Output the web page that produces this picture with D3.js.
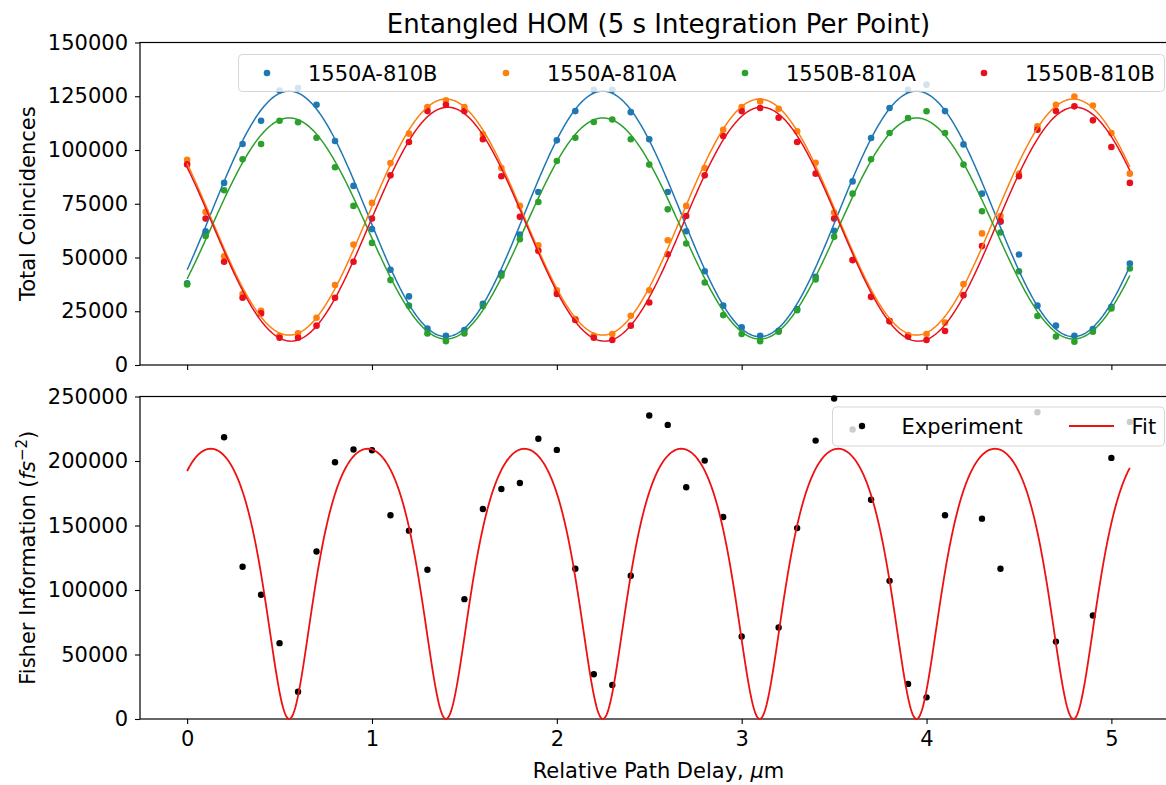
<!DOCTYPE html>
<html>
<head>
<meta charset="utf-8">
<script src="https://cdn.jsdelivr.net/npm/d3@7"></script>
<style>
  html, body { margin: 0; padding: 0; background: #fff; }
  svg { display: block; font-family: "DejaVu Sans", sans-serif; }
</style>
</head>
<body>
<svg id="chart" width="1166" height="785"></svg>
<script>
// ---------------- data ----------------
const delay = [0,0.1,0.2,0.3,0.4,0.5,0.6,0.7,0.8,0.9,1.0,1.1,1.2,1.3,1.4,1.5,1.6,1.7,1.8,1.9,2.0,2.1,2.2,2.3,2.4,2.5,2.6,2.7,2.8,2.9,3.0,3.1,3.2,3.3,3.4,3.5,3.6,3.7,3.8,3.9,4.0,4.1,4.2,4.3,4.4,4.5,4.6,4.7,4.8,4.9,5.0,5.1];

const series1550A810B = [38000,62200,84700,102800,113600,127700,128800,121000,104200,83300,63200,44300,31900,16900,13600,16300,28500,42600,60700,80500,104500,118100,128000,128000,117600,105000,80500,62200,43600,27600,17500,13600,15900,26000,41000,62400,85400,105600,119500,128000,130400,118100,102600,79700,66600,51400,27600,18300,13600,16700,27100,47200];
const series1550A810A = [95500,71200,50600,33000,25200,13600,14700,22000,37200,56000,75400,93900,107600,120000,123100,120000,107300,91600,74000,55700,34800,21400,13600,14400,22900,34800,58000,74000,91600,109400,120000,122600,119200,108700,94100,70900,48800,31700,20400,13900,14400,19700,37600,61200,69300,89000,111000,121000,124900,120700,107900,89000];
const series1550B810A = [37500,60000,81300,95700,102800,113600,112900,105700,92000,74000,56800,39500,27600,14700,11100,14700,27500,41500,58500,75800,94900,105700,113000,114200,105000,93200,72400,56500,38400,23200,14400,11100,15500,25500,39800,59600,79700,95700,107900,114900,118000,107900,93200,71500,61600,43600,22800,13200,10800,15500,26300,44900];
const series1550B810B = [93300,68100,48000,31300,24000,12700,12700,18300,31300,48000,68100,88200,103700,118100,121000,118100,105000,87800,68900,53100,33000,20900,12700,11600,18300,29100,51500,69300,88200,106500,118100,119500,115000,103700,89000,68100,48800,31700,20400,13200,11600,15800,32500,55300,66900,87800,109400,118100,120300,113800,101400,84700];

// Fisher information, experiment (null = not plotted)
const fisherExperiment = [null,null,218400,118000,96300,58800,21200,129900,199000,208900,208300,157900,146000,115700,null,92900,162800,178300,183000,217200,208600,116500,34700,26400,111000,235300,228000,179600,200300,156600,63900,null,70900,148000,215800,248400,224400,170000,107100,27200,16800,157900,null,155300,116500,null,237800,60000,null,80200,202400,230300];

const seriesNames = ["1550A-810B","1550A-810A","1550B-810A","1550B-810B"];
const seriesColors = ["#1f77b4","#ff7f0e","#2ca02c","#e8101e"];

// sinusoidal fit parameters per series: [offset, amplitude, peak delay (µm)]
const fitOffset    = [70300, 68800, 63500, 65500];
const fitAmplitude = [57100, 54900, 51400, 54400];
const fitPeak      = [0.552, 1.400, 0.552, 1.410];
const fitPeriod    = 1.697;   // µm
// Fisher information fit: [max value, visibility, zero position]
const fisherFitMax = 209500;
const fisherFitVis = 0.81;
const fisherFitZero = 0.552;

const xTicks = [0,1,2,3,4,5];
const yTicksTop = [0,25000,50000,75000,100000,125000,150000];
const yTicksBottom = [0,50000,100000,150000,200000,250000];

// ---------------- layout ----------------
const svg = d3.select("#chart");
const FONT = 21;
const x = d3.scaleLinear().domain([-0.255, 5.355]).range([140, 1177]);
const yTop = d3.scaleLinear().domain([0, 150000]).range([365, 42.5]);
const yBot = d3.scaleLinear().domain([0, 250000]).range([719, 396.5]);

const fitX = d3.range(0, 5.1 + 1e-9, 0.005);

function drawFrame(y, showXLabels, yTicks) {
  const g = svg.append("g");
  const [y0, y1] = y.range();
  const [x0, x1] = x.range();
  // axes
  const ax = d3.axisBottom(x).tickValues(xTicks).tickSize(5).tickPadding(7)
    .tickFormat(showXLabels ? d3.format("d") : () => "");
  const gx = g.append("g").attr("transform", `translate(0,${y0})`).call(ax);
  const ay = d3.axisLeft(y).tickValues(yTicks).tickSize(5).tickPadding(7).tickFormat(d3.format("d"));
  const gy = g.append("g").attr("transform", `translate(${x0},0)`).call(ay);
  [gx, gy].forEach(a => {
    a.select(".domain").remove();
    a.selectAll("line").attr("stroke", "#000").attr("stroke-width", 1.1);
    a.selectAll("text").attr("font-size", FONT).attr("font-family", "DejaVu Sans").attr("fill", "#000");
  });
  gx.selectAll("text").attr("dy", "0.71em");
  // spines
  g.append("rect").attr("x", x0).attr("y", y1).attr("width", x1 - x0).attr("height", y0 - y1)
    .attr("fill", "none").attr("stroke", "#000").attr("stroke-width", 1.2);
  return g;
}

// ---------------- top panel ----------------
drawFrame(yTop, false, yTicksTop);
const topData = [series1550A810B, series1550A810A, series1550B810A, series1550B810B];
const gTop = svg.append("g");
topData.forEach((vals, i) => {
  gTop.append("g").selectAll("circle").data(vals).join("circle")
    .attr("cx", (d, j) => x(delay[j])).attr("cy", d => yTop(d)).attr("r", 3.3)
    .attr("fill", seriesColors[i]);
});
topData.forEach((vals, i) => {
  const line = d3.line().x(d => x(d)).y(d => yTop(fitOffset[i] + fitAmplitude[i] * Math.cos(2 * Math.PI * (d - fitPeak[i]) / fitPeriod)));
  gTop.append("path").datum(fitX).attr("d", line).attr("fill", "none")
    .attr("stroke", seriesColors[i]).attr("stroke-width", 1.5);
});

// top legend
const lgTop = svg.append("g");
lgTop.append("rect").attr("x", 238.5).attr("y", 54.5).attr("width", 926).attr("height", 37)
  .attr("rx", 4).attr("fill", "#fff").attr("fill-opacity", 0.8)
  .attr("stroke", "#ccc").attr("stroke-opacity", 0.8).attr("stroke-width", 1);
seriesNames.forEach((name, i) => {
  const mx = 267 + i * 239;
  lgTop.append("circle").attr("cx", mx).attr("cy", 73).attr("r", 3.3).attr("fill", seriesColors[i]);
  lgTop.append("text").attr("x", mx + 41).attr("y", 80.5).attr("font-size", FONT).attr("fill", "#000").text(name);
});

// title
svg.append("text").attr("x", 658.5).attr("y", 33).attr("text-anchor", "middle")
  .attr("font-size", 26).attr("fill", "#000").text("Entangled HOM (5 s Integration Per Point)");

// y label top
svg.append("text").attr("transform", "translate(35,203.75) rotate(-90)").attr("text-anchor", "middle")
  .attr("font-size", FONT).attr("fill", "#000").text("Total Coincidences");

// ---------------- bottom panel ----------------
drawFrame(yBot, true, yTicksBottom);
const gBot = svg.append("g");
const fisherLine = d3.line().x(d => x(d)).y(d => {
  const phi = 2 * Math.PI * (d - fisherFitZero) / fitPeriod;
  const s = Math.sin(phi), c = Math.cos(phi);
  return yBot(fisherFitMax * s * s / (1 - fisherFitVis * fisherFitVis * c * c));
});
const expPts = delay.map((d, j) => ({ x: d, v: fisherExperiment[j] })).filter(p => p.v !== null);
gBot.append("g").selectAll("circle").data(expPts).join("circle")
  .attr("cx", d => x(d.x)).attr("cy", d => yBot(d.v)).attr("r", 3.2).attr("fill", "#000");
gBot.append("path").datum(fitX).attr("d", fisherLine).attr("fill", "none")
  .attr("stroke", "#ee1111").attr("stroke-width", 1.8);

// bottom legend
const lgBot = svg.append("g");
lgBot.append("rect").attr("x", 832.5).attr("y", 407).attr("width", 332).attr("height", 39)
  .attr("rx", 4).attr("fill", "#fff").attr("fill-opacity", 0.8)
  .attr("stroke", "#ccc").attr("stroke-opacity", 0.8).attr("stroke-width", 1);
lgBot.append("circle").attr("cx", 862).attr("cy", 426).attr("r", 3.2).attr("fill", "#000");
lgBot.append("text").attr("x", 901.5).attr("y", 433.5).attr("font-size", FONT).attr("fill", "#000").text("Experiment");
lgBot.append("line").attr("x1", 1069).attr("x2", 1114).attr("y1", 426).attr("y2", 426)
  .attr("stroke", "#ee1111").attr("stroke-width", 1.8);
lgBot.append("text").attr("x", 1131.5).attr("y", 433.5).attr("font-size", FONT).attr("fill", "#000").text("Fit");

// y label bottom
const fl = svg.append("text").attr("transform", "translate(35,557.75) rotate(-90)").attr("text-anchor", "middle")
  .attr("font-size", FONT).attr("fill", "#000");
fl.append("tspan").text("Fisher Information (");
fl.append("tspan").attr("font-style", "italic").text("fs");
fl.append("tspan").attr("font-size", 15).attr("dy", -8).text("\u22122");
fl.append("tspan").attr("dy", 8).text(")");

// x label
const xl = svg.append("text").attr("x", 658.5).attr("y", 778).attr("text-anchor", "middle")
  .attr("font-size", FONT).attr("fill", "#000");
xl.append("tspan").text("Relative Path Delay, ");
xl.append("tspan").attr("font-style", "italic").text("\u03bc");
xl.append("tspan").text("m");
</script>
</body>
</html>
